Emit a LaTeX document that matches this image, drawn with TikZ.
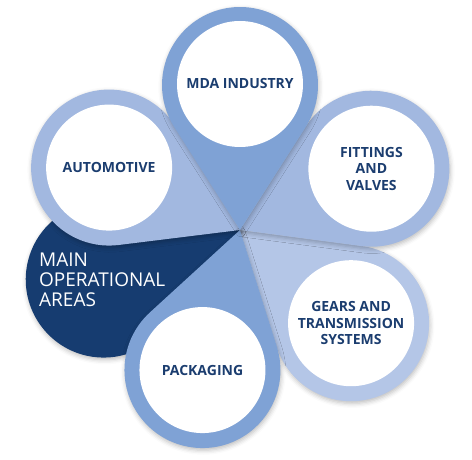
\documentclass[tikz,border=0pt]{standalone}
\usepackage{fontspec}
\setmainfont{Open Sans}
\usetikzlibrary{shadows.blur,calc}
\definecolor{midblue}{HTML}{7FA2D5}
\definecolor{lightblue}{HTML}{A2B8E0}
\definecolor{paleblue}{HTML}{B4C6E7}
\definecolor{navy}{HTML}{163C70}
\definecolor{txtblue}{HTML}{1B3D6F}
\newcommand\mypetal[3]{%
  \pgfmathsetmacro\sa{#1+180+57.45}%
  \pgfmathsetmacro\ea{#1+540-57.45}%
  \coordinate (#3s) at ($(#1:145)+(\sa:78)$);%
  \fill[#2, petalshadow] (0,0) -- (#3s) arc[start angle=\sa, end angle=\ea, radius=78] -- cycle;%
}
\begin{document}
\begin{tikzpicture}[x=1pt,y=1pt,
  petalshadow/.style={blur shadow={shadow xshift=0.8pt, shadow yshift=-2.2pt, shadow blur radius=4.5pt, shadow opacity=26}},
  hole/.style={circle, fill=white, minimum size=126pt, inner sep=0pt, align=center,
    font=\bfseries\fontsize{14}{16.5}\selectfont, text=txtblue}]
\useasboundingbox (-240,-230) rectangle (232,230);
\coordinate (tip) at (0,0);
% bottom to top
\mypetal{-40}{paleblue}{gears}
\node[hole] (gearsc) at (-40:145) {GEARS AND\\TRANSMISSION\\SYSTEMS};
\mypetal{200}{navy}{main}
\node[anchor=west, text=white, align=left, inner sep=0pt,
  font=\fontsize{19}{20}\selectfont] (maintext) at (-201,-50) {MAIN\\OPERATIONAL\\AREAS};
\mypetal{25}{lightblue}{fit}
\node[hole] (fitc) at (25:145) {FITTINGS\\AND\\VALVES};
\mypetal{154.5}{lightblue}{auto}
\node[hole] (autoc) at (154.5:145) {AUTOMOTIVE};
\mypetal{-105}{midblue}{pack}
\node[hole] (packc) at (-105:145) {PACKAGING};
\mypetal{90}{midblue}{mda}
\node[hole] (mdac) at (90:146) {MDA INDUSTRY};
\end{tikzpicture}
\end{document}
